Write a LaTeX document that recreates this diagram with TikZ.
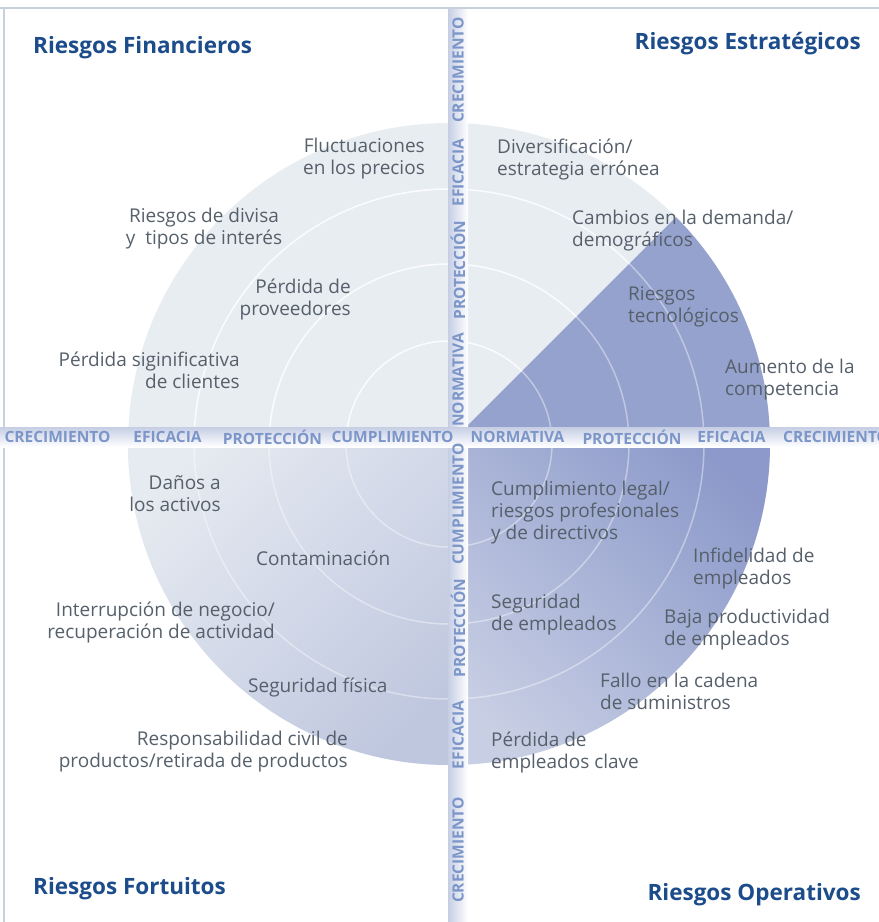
\documentclass[tikz,border=0pt]{standalone}
\usepackage{fontspec}
\setmainfont{Open Sans}
\definecolor{pale}{HTML}{E8EDF2}
\definecolor{wedgeblue}{HTML}{96A2CE}
\definecolor{bandtext}{HTML}{7C96C9}
\definecolor{bodytext}{HTML}{56606B}
\definecolor{titleblue}{HTML}{1C4C8A}
\definecolor{framecol}{HTML}{C8D0DC}
\definecolor{bandshade}{HTML}{C6CEE4}
\definecolor{blpale}{HTML}{E6EBF1}
\definecolor{bldark}{HTML}{BFC7DF}
\definecolor{brdark}{HTML}{8C99CA}
\definecolor{brlight}{HTML}{C8CFE4}
\begin{document}
\begin{tikzpicture}[x=1pt,y=-1pt,
  lbl/.style={inner sep=0pt, text=bodytext, font=\fontsize{19}{22}\selectfont},
  lblr/.style={lbl, align=right, anchor=east},
  lbll/.style={lbl, align=left, anchor=west},
  lblc/.style={lbl, align=center, anchor=center},
  ttl/.style={inner sep=0pt, text=titleblue, font=\fontsize{22.5}{25}\selectfont\bfseries},
  bandlbl/.style={inner sep=0pt, text=bandtext, font=\fontsize{15.5}{18}\selectfont\bfseries},
  ring/.style={draw=white, line width=1.5pt}]
\useasboundingbox (0,0) rectangle (879,922);
\coordinate (C) at (449,444);
% disk
\fill[pale] (C) circle[radius=321];
\begin{scope}
  \clip (C) -- ++(-321,0) arc[start angle=180,end angle=90,radius=321] -- cycle;
  \shade[top color=blpale, bottom color=bldark, shading angle=45] (110,430) rectangle (460,780);
\end{scope}
\begin{scope}
  \clip (C) -- ++(321,0) arc[start angle=0,end angle=90,radius=321] -- cycle;
  \shade[top color=brdark, bottom color=brlight, shading angle=-45] (440,430) rectangle (790,780);
\end{scope}
\fill[wedgeblue] (C) -- ++(321,0) arc[start angle=0,end angle=-45,radius=321] -- cycle;
\draw[ring, opacity=0.4] (C) circle[radius=103];
\draw[ring, opacity=0.4] (C) circle[radius=180];
\draw[ring, opacity=0.4] (C) circle[radius=255];
\begin{scope}
  \clip (C) -- ++(-340,0) arc[start angle=-180,end angle=-45,radius=340] -- cycle;
  \draw[ring, opacity=0.65] (C) circle[radius=103];
  \draw[ring, opacity=0.65] (C) circle[radius=180];
  \draw[ring, opacity=0.65] (C) circle[radius=255];
\end{scope}
% frame
\draw[framecol, line width=2pt] (0,8) -- (879,8);
\draw[framecol, line width=2pt] (4,8) -- (4,922);
% bands
\shade[left color=bandshade, right color=white] (448,9) rectangle (468,922);
\shade[top color=bandshade, bottom color=white] (0,427) rectangle (879,447);
% band labels horizontal
\node[bandlbl] (h1) at (57.5,437) {CRECIMIENTO};
\node[bandlbl] (h2) at (167.5,437) {EFICACIA};
\node[bandlbl] (h3) at (272.5,437) {PROTECCIÓN};
\node[bandlbl] (h4) at (392.5,437) {CUMPLIMIENTO};
\node[bandlbl] (h5) at (517.5,437) {NORMATIVA};
\node[bandlbl] (h6) at (632,437) {PROTECCIÓN};
\node[bandlbl] (h7) at (731.5,437) {EFICACIA};
\node[bandlbl, anchor=west] (h8) at (783,437) {CRECIMIENTO};
% band labels vertical
\node[bandlbl, rotate=90] (v1) at (458,70) {CRECIMIENTO};
\node[bandlbl, rotate=90] (v2) at (458,172.5) {EFICACIA};
\node[bandlbl, rotate=90] (v3) at (458,270) {PROTECCIÓN};
\node[bandlbl, rotate=90] (v4) at (458,380) {NORMATIVA};
\node[bandlbl, rotate=90] (v5) at (458,504) {CUMPLIMIENTO};
\node[bandlbl, rotate=90] (v6) at (458,628) {PROTECCIÓN};
\node[bandlbl, rotate=90] (v7) at (458,735) {EFICACIA};
\node[bandlbl, rotate=90] (v8) at (458,850) {CRECIMIENTO};
% titles
\node[ttl, anchor=west] (t1) at (33,48) {Riesgos Financieros};
\node[ttl, anchor=east] (t2) at (861,44) {Riesgos Estratégicos};
\node[ttl, anchor=west] (t3) at (33,889) {Riesgos Fortuitos};
\node[ttl, anchor=east] (t4) at (861,895) {Riesgos Operativos};
% top-left
\node[lblr] (a1) at (425,159) {Fluctuaciones\\en los precios};
\node[lblc] (a2) at (204,229) {Riesgos de divisa\\y\ \ tipos de interés};
\node[lblr] (a3) at (351,299) {Pérdida de\\proveedores};
\node[lblr] (a4) at (240,370) {Pérdida siginificativa\\de clientes};
% top-right
\node[lbll] (b1) at (497,159) {Diversificación/\\estrategia errónea};
\node[lbll] (b2) at (572,231) {Cambios en la demanda/\\demográficos};
\node[lbll] (b3) at (628,307) {Riesgos\\tecnológicos};
\node[lbll] (b4) at (725,380) {Aumento de la\\competencia};
% bottom-left
\node[lblr] (c1) at (221,494) {Daños a\\los activos};
\node[lbll] (c2) at (256,558) {Contaminación};
\node[lblr] (c3) at (275,622) {Interrupción de negocio/\\recuperación de actividad};
\node[lbll] (c4) at (248,687) {Seguridad física};
\node[lblr] (c5) at (348,752) {Responsabilidad civil de\\productos/retirada de productos};
% bottom-right
\node[lbll] (d1) at (491,513) {Cumplimiento legal/\\riesgos profesionales\\y de directivos};
\node[lbll] (d2) at (693,569) {Infidelidad de\\empleados};
\node[lbll] (d3) at (491,615) {Seguridad\\de empleados};
\node[lbll] (d4) at (664,630) {Baja productividad\\de empleados};
\node[lbll] (d5) at (600,691) {Fallo en la cadena\\de suministros};
\node[lbll] (d6) at (491,752) {Pérdida de\\empleados clave};
\end{tikzpicture}
\end{document}
